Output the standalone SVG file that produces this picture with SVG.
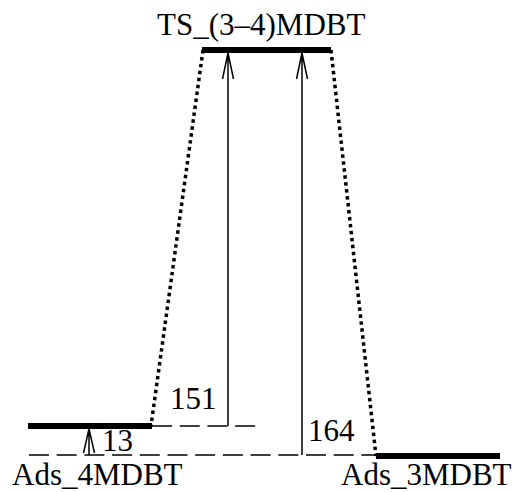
<svg xmlns="http://www.w3.org/2000/svg" width="516" height="492" viewBox="0 0 516 492">
<style>
.lbl{font-family:"Liberation Serif","Times New Roman",serif;font-size:31px;fill:#000}
.bar{stroke:#000;stroke-width:6;fill:none}
.dash{stroke:#000;stroke-width:1.5;stroke-dasharray:20 7.7;fill:none}
.dot{stroke:#000;stroke-width:3.5;stroke-dasharray:3.5 3.5;fill:none}
.arr{stroke:#000;stroke-width:1.5;fill:none}
</style>
<rect width="516" height="492" fill="#fff"/>
<g id="connectors">
<path class="dot" d="M203,50 L151,426"/>
<path class="dot" d="M331,50 L376,456"/>
<path class="dash" d="M152,426 H256"/>
<path class="dash" d="M29,455 H376"/>
<path class="arr" d="M89,455 V429 M83.5,453 L89,429 L94.5,453"/>
<path class="arr" d="M228,426 V53 M222.5,79 L228,53 L233.5,79"/>
<path class="arr" d="M302,455 V53 M296.5,79 L302,53 L307.5,79"/>
<text class="lbl" x="102" y="451">13</text>
<text class="lbl" x="170" y="409">151</text>
<text class="lbl" x="308" y="441">164</text>
</g>
<g id="TS">
<path class="bar" d="M202,50 H331"/>
<text class="lbl" x="157" y="35">TS_(3–4)MDBT</text>
</g>
<g id="Ads_4MDBT">
<path class="bar" d="M28,426 H152"/>
<text class="lbl" x="12" y="485">Ads_4MDBT</text>
</g>
<g id="Ads_3MDBT">
<path class="bar" d="M376,456 H500"/>
<text class="lbl" x="341" y="485">Ads_3MDBT</text>
</g>
</svg>
